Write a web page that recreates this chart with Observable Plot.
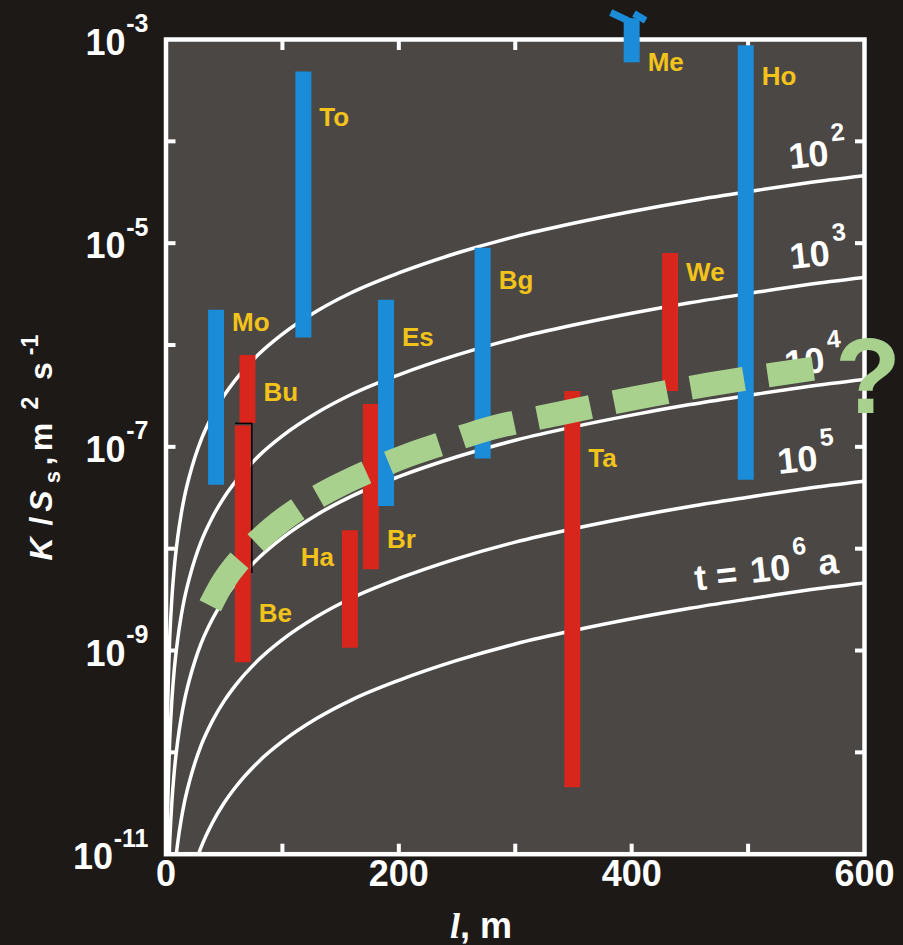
<!DOCTYPE html>
<html><head><meta charset="utf-8">
<script src="https://cdn.jsdelivr.net/npm/d3@7"></script>
<script src="https://cdn.jsdelivr.net/npm/@observablehq/plot@0.6"></script>
<style>
html,body{margin:0;padding:0;background:#1d1917;}
</style></head><body><div id="chart"></div>
<script>
// ---- Sites (vertical ranges) ----
const siteNames = ["Mo","To","Bu","Be","Ha","Br","Es","Bg","Ta","We","Ho","Me"];
const siteGroup = ["A","A","B","B","B","B","A","A","B","B","A","A"];
const siteL     = [43, 118, 70, 66, 158, 176, 189, 272, 349, 433, 498, 400];
const siteLow   = [4.2e-8, 1.17e-6, 1.7e-7, 7.6e-10, 1.05e-9, 6.2e-9, 2.6e-8, 7.6e-8, 4.5e-11, 3.5e-7, 4.7e-8, 5.9e-4];
const siteHigh  = [2.2e-6, 4.8e-4, 7.9e-7, 1.6e-7, 1.5e-8, 2.6e-7, 2.75e-6, 8.9e-6, 3.5e-7, 7.9e-6, 8.7e-4, 1.6e-3];
const siteLabelV = [1.66e-6, 1.71e-4, 3.42e-7, 2.31e-9, 8.2e-9, 1.23e-8, 1.19e-6, 4.3e-6, 7.7e-8, 5.15e-6, 4.33e-4, 5.94e-4];
const siteLabelSide = ["right","right","right","right","left","right","right","right","right","right","right","right"];

// ---- "Me" fork at top ----
const meForkX1 = [400, 402], meForkY1 = [1.47e-3, 1.80e-3];
const meForkX2 = [382, 412], meForkY2 = [1.84e-3, 1.54e-3];

// ---- Be outline ----
const beOutlineTop = 1.7e-7, beOutlineBottom = 5.7e-9;

// ---- Time curves (t = 10^2 ... 10^6 a) ----
const curveL = [0.25,0.5,1,1.5,2,3,4,5,7,10,13,16,20,25,30,40,50,60,80,100,130,160,200,250,300,350,400,450,500,550,600];
const curveT1e2 = [8.0e-12,3.2e-11,1.28e-10,2.9e-10,5.1e-10,1.16e-9,2.05e-9,3.2e-9,6.3e-9,1.28e-8,2.17e-8,3.3e-8,5.1e-8,8.0e-8,1.16e-7,2.05e-7,3.2e-7,4.6e-7,8.2e-7,1.28e-6,2.17e-6,3.3e-6,5.1e-6,8.0e-6,1.16e-5,1.57e-5,2.05e-5,2.6e-5,3.2e-5,3.9e-5,4.6e-5];
const curveT1e3 = [8.0e-13,3.2e-12,1.28e-11,2.9e-11,5.1e-11,1.16e-10,2.05e-10,3.2e-10,6.3e-10,1.28e-9,2.17e-9,3.3e-9,5.1e-9,8.0e-9,1.16e-8,2.05e-8,3.2e-8,4.6e-8,8.2e-8,1.28e-7,2.17e-7,3.3e-7,5.1e-7,8.0e-7,1.16e-6,1.57e-6,2.05e-6,2.6e-6,3.2e-6,3.9e-6,4.6e-6];
const curveT1e4 = [8.0e-14,3.2e-13,1.28e-12,2.9e-12,5.1e-12,1.16e-11,2.05e-11,3.2e-11,6.3e-11,1.28e-10,2.17e-10,3.3e-10,5.1e-10,8.0e-10,1.16e-9,2.05e-9,3.2e-9,4.6e-9,8.2e-9,1.28e-8,2.17e-8,3.3e-8,5.1e-8,8.0e-8,1.16e-7,1.57e-7,2.05e-7,2.6e-7,3.2e-7,3.9e-7,4.6e-7];
const curveT1e5 = [8.0e-15,3.2e-14,1.28e-13,2.9e-13,5.1e-13,1.16e-12,2.05e-12,3.2e-12,6.3e-12,1.28e-11,2.17e-11,3.3e-11,5.1e-11,8.0e-11,1.16e-10,2.05e-10,3.2e-10,4.6e-10,8.2e-10,1.28e-9,2.17e-9,3.3e-9,5.1e-9,8.0e-9,1.16e-8,1.57e-8,2.05e-8,2.6e-8,3.2e-8,3.9e-8,4.6e-8];
const curveT1e6 = [8.0e-16,3.2e-15,1.28e-14,2.9e-14,5.1e-14,1.16e-13,2.05e-13,3.2e-13,6.3e-13,1.28e-12,2.17e-12,3.3e-12,5.1e-12,8.0e-12,1.16e-11,2.05e-11,3.2e-11,4.6e-11,8.2e-11,1.28e-10,2.17e-10,3.3e-10,5.1e-10,8.0e-10,1.16e-9,1.57e-9,2.05e-9,2.6e-9,3.2e-9,3.9e-9,4.6e-9];
const curveNames = ["1e2","1e3","1e4","1e5","1e6"];
const curveSeries = [curveT1e2, curveT1e3, curveT1e4, curveT1e5, curveT1e6];

// ---- Curve labels ----
const curveLabelExp  = ["2","3","4","5","6"];
const curveLabelPre  = ["","","","","t ="];
const curveLabelPost = ["","","","","a"];
const curveLabelL = [552, 553, 548.5, 542.5, 519];
const curveLabelV = [7.26e-5, 7.57e-6, 6.73e-7, 7.35e-8, 6.25e-9];

// ---- Green dashed trend ----
const dashL = [38, 47, 70, 91, 120, 145, 175, 207, 240, 272, 336, 401, 467, 533, 556];
const dashV = [2.75e-9, 4.3e-9, 9.4e-9, 1.58e-8, 2.75e-8, 3.99e-8, 5.8e-8, 8.2e-8, 1.1e-7, 1.45e-7, 2.1e-7, 2.98e-7, 4.1e-7, 5.37e-7, 5.85e-7];
const questionMark = {l: 603, v: 4.7e-7, text: "?"};

// ---- Axes ----
const xTicks = [100, 200, 300, 400, 500];
const xTickLabels = [0, 200, 400, 600];
const yTicks = [1e-10, 1e-9, 1e-8, 1e-7, 1e-6, 1e-5, 1e-4];
const yLabelExps = [-3, -5, -7, -9, -11];

// ---- Build tables ----
const sites = siteNames.map((n, i) => ({name: n, group: siteGroup[i], l: siteL[i], lo: siteLow[i], hi: siteHigh[i], lv: siteLabelV[i], side: siteLabelSide[i]}));
const curveRows = curveSeries.flatMap((s, k) => s.map((v, i) => ({t: curveNames[k], l: curveL[i], v})));
const curveLabels = curveLabelExp.map((e, i) => ({exp: e, pre: curveLabelPre[i], post: curveLabelPost[i], l: curveLabelL[i], v: curveLabelV[i]}));
const dashRows = dashL.map((l, i) => ({l, v: dashV[i]}));
const meFork = meForkX1.map((x, i) => ({x1: x, y1: meForkY1[i], x2: meForkX2[i], y2: meForkY2[i]}));

const WHITE = "#ffffff", GOLD = "#f2c31b", GREEN = "#a9d18e", BLUE = "#1a8cd8", RED = "#d8261d";
const font = "'Liberation Sans', Arial, sans-serif";

const plot = Plot.plot({
  width: 903, height: 945,
  marginLeft: 165.5, marginRight: 39, marginTop: 39, marginBottom: 91.3,
  x: {domain: [0, 600]},
  y: {type: "log", domain: [1e-11, 1e-3]},
  color: {domain: ["A", "B"], range: [BLUE, RED]},
  style: {background: "#1d1917", fontFamily: font, color: WHITE},
  marks: [
    Plot.frame({fill: "#4b4745", stroke: "none"}),
    Plot.line(curveRows, {x: "l", y: "v", z: "t", stroke: WHITE, strokeWidth: 3.5, curve: "monotone-x", clip: true}),
    Plot.frame({stroke: WHITE, strokeWidth: 4.5}),
    Plot.axisX(xTicks, {anchor: "bottom", tickSize: -10, stroke: WHITE, strokeWidth: 4, fill: "none", label: null}),
    Plot.axisX(xTicks, {anchor: "top", tickSize: -10, stroke: WHITE, strokeWidth: 4, fill: "none", label: null}),
    Plot.axisY(yTicks, {anchor: "left", tickSize: -10, stroke: WHITE, strokeWidth: 4, fill: "none", label: null}),
    Plot.axisY(yTicks, {anchor: "right", tickSize: -10, stroke: WHITE, strokeWidth: 4, fill: "none", label: null}),
    // curve labels
    Plot.text(curveLabels, {x: "l", y: "v", text: () => "10", fontSize: 36, fontWeight: "bold", fill: WHITE, rotate: -6, textAnchor: "middle"}),
    Plot.text(curveLabels, {x: "l", y: "v", text: "exp", dx: 29, dy: -23, fontSize: 25, fontWeight: "bold", fill: WHITE, rotate: -6, textAnchor: "middle"}),
    Plot.text(curveLabels, {x: "l", y: "v", text: "pre", dx: -33, dy: 5, fontSize: 36, fontWeight: "bold", fill: WHITE, rotate: -6, textAnchor: "end"}),
    Plot.text(curveLabels, {x: "l", y: "v", text: "post", dx: 48, dy: -6, fontSize: 36, fontWeight: "bold", fill: WHITE, rotate: -6, textAnchor: "start"}),
    // bars
    Plot.ruleX(sites, {x: "l", y1: "lo", y2: "hi", stroke: "group", strokeWidth: 16}),
    Plot.ruleX([siteL[3]], {y1: beOutlineTop, y2: beOutlineBottom, dx: 9, stroke: "#000", strokeWidth: 1.5}),
    Plot.ruleY([beOutlineTop], {x1: 59.7, x2: 74.3, stroke: "#000", strokeWidth: 1.5}),
    Plot.link(meFork, {x1: "x1", y1: "y1", x2: "x2", y2: "y2", stroke: BLUE, strokeWidth: 7}),
    // trend
    Plot.line(dashRows, {x: "l", y: "v", stroke: GREEN, strokeWidth: 24, strokeDasharray: "54 24", strokeLinecap: "butt", strokeLinejoin: "miter", curve: "monotone-x"}),
    // site labels
    Plot.text(sites.filter(d => d.side === "right"), {x: "l", y: "lv", text: "name", dx: 16, textAnchor: "start", fontSize: 26, fontWeight: "bold", fill: GOLD}),
    Plot.text(sites.filter(d => d.side === "left"), {x: "l", y: "lv", text: "name", dx: -16, textAnchor: "end", fontSize: 26, fontWeight: "bold", fill: GOLD}),
    Plot.text([questionMark], {x: "l", y: "v", text: "text", fontSize: 108, fontWeight: "bold", fill: GREEN, textAnchor: "middle"}),
    // tick labels
    Plot.text(xTickLabels, {x: d => d, frameAnchor: "bottom", dy: 32, text: d => String(d), fontSize: 36, fontWeight: "bold", fill: WHITE}),
    Plot.text(yLabelExps.filter(e => e > -10), {y: e => 10 ** e, frameAnchor: "left", text: () => "10", dx: -40.5, dy: 3.5, textAnchor: "end", fontSize: 36, fontWeight: "bold", fill: WHITE}),
    Plot.text(yLabelExps.filter(e => e <= -10), {y: e => 10 ** e, frameAnchor: "left", text: () => "10", dx: -53, dy: 3.5, textAnchor: "end", fontSize: 36, fontWeight: "bold", fill: WHITE}),
    Plot.text(yLabelExps, {y: e => 10 ** e, frameAnchor: "left", text: e => String(e), dx: -17.5, dy: -15.5, textAnchor: "end", fontSize: 25, fontWeight: "bold", fill: WHITE})
  ]
});
document.getElementById("chart").append(plot);

// ---- Axis titles (rich text) ----
const svg = d3.select(plot);
const g = svg.append("g").attr("fill", WHITE).attr("font-weight", "bold").attr("font-family", font);
const yTitle = g.append("text").attr("transform", "translate(52,549) rotate(-90)").attr("font-size", 32);
const yParts = [
  {t: "K", x: 0, y: 0, italic: true},
  {t: "/", x: 28, y: 0},
  {t: "S", x: 48, y: 0, italic: true},
  {t: "s", x: 72, y: 8, size: 22},
  {t: ",", x: 88, y: 0},
  {t: "m", x: 112, y: 0},
  {t: "2", x: 146, y: -14, size: 23},
  {t: "s", x: 178, y: 0},
  {t: "-1", x: 204, y: -14, size: 23}
];
yParts.forEach(p => {
  const ts = yTitle.append("tspan").attr("x", p.x).attr("y", p.y).text(p.t);
  if (p.italic) ts.attr("font-style", "italic");
  if (p.size) ts.attr("font-size", p.size);
});
const xTitle = g.append("text").attr("x", 481).attr("y", 938).attr("font-size", 36);
xTitle.append("tspan").attr("font-family", "'Liberation Serif', 'DejaVu Serif', serif").attr("font-style", "italic").text("l");
xTitle.append("tspan").text(", m");
</script></body></html>
